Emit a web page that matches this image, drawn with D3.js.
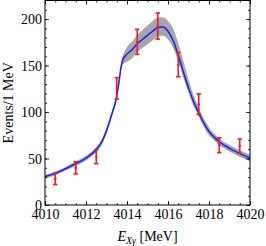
<!DOCTYPE html>
<html>
<head>
<meta charset="utf-8">
<script src="https://cdn.jsdelivr.net/npm/d3@7"></script>
<style>
  body { margin: 0; background: #fff; }
  text { font-family: "Liberation Serif", "Times New Roman", serif; }
</style>
</head>
<body>
<script>

// Data
var curveE    = [4010.0, 4010.5, 4011.0, 4011.5, 4012.0, 4012.25, 4012.5, 4012.75, 4013.0, 4013.25, 4013.5, 4013.6, 4013.7, 4013.78, 4013.9, 4014.0, 4014.25, 4014.5, 4014.75, 4015.0, 4015.25, 4015.5, 4015.75, 4016.0, 4016.25, 4016.5, 4016.75, 4017.0, 4017.25, 4017.5, 4017.75, 4018.0, 4018.25, 4018.5, 4019.0, 4019.5, 4020.0];
var curveMid  = [30.5, 34, 39, 44.5, 50.5, 54.5, 59.5, 67, 80, 97, 117, 131, 147, 155.5, 160, 162.5, 167, 173.5, 178, 182.5, 187, 191, 191.5, 187, 177, 161, 143, 126, 111, 99, 88, 79, 73, 68, 61, 55.5, 50.5];
var curveLow  = [28.5, 32, 37, 42, 48, 52, 56.5, 64, 77, 94, 114, 128, 143.5, 150.5, 153, 154, 158, 164.5, 169, 173, 177, 181, 182, 178, 169, 155, 137, 121, 106.5, 95, 84, 75, 69.5, 64.5, 57.5, 52, 47];
var curveHigh = [32.5, 36, 41, 47, 53, 57, 62.5, 70, 83, 100, 120, 134, 150.5, 159.5, 166, 170, 176, 183, 188, 193, 198, 201.5, 202, 198, 190, 174, 155, 135, 118, 104.5, 93, 83.5, 77, 71.5, 64.5, 59, 54];

var dataE   = [4010.5, 4011.5, 4012.5, 4013.5, 4014.5, 4015.5, 4016.5, 4017.5, 4018.5, 4019.5];
var dataVal = [28, 40, 52, 125.5, 175.5, 192.5, 151, 108.5, 64.3, 63.3];
var dataErr = [6, 6.5, 7.5, 11.5, 13.5, 14, 13, 11, 8, 7.7];

var xMajor = [4010, 4012, 4014, 4016, 4018, 4020];
var yMajor = [0, 50, 100, 150, 200];

var width = 266;
var height = 246;
var pLeft = 45, pRight = 250, pTop = 0.5, pBottom = 205;

var x = d3.scaleLinear().domain([4010, 4020]).range([pLeft, pRight]);
var y = d3.scaleLinear().domain([0, 220]).range([pBottom, pTop]);

var xMinor = d3.range(4010, 4020.01, 0.5);
var yMinor = d3.range(0, 220, 10);

var svg = d3.select("body").append("svg")
	.attr("width", width)
	.attr("height", height);

var plot = svg.append("g");

plot.append("clipPath").attr("id", "clip")
	.append("rect")
	.attr("x", pLeft).attr("y", pTop)
	.attr("width", pRight - pLeft).attr("height", pBottom - pTop);

// error band
var band = d3.area()
	.x(function(d) { return x(curveE[d]); })
	.y0(function(d) { return y(curveLow[d]); })
	.y1(function(d) { return y(curveHigh[d]); })
	.curve(d3.curveMonotoneX);

var idx = d3.range(curveE.length);

plot.append("path")
	.attr("clip-path", "url(#clip)")
	.attr("d", band(idx))
	.style("fill", "#a6a6a6")
	.style("stroke", "none");

// central curve
var line = d3.line()
	.x(function(d) { return x(curveE[d]); })
	.y(function(d) { return y(curveMid[d]); })
	.curve(d3.curveMonotoneX);

plot.append("path")
	.attr("clip-path", "url(#clip)")
	.attr("d", line(idx))
	.style("fill", "none")
	.style("stroke", "#1a1aff")
	.style("stroke-width", 1.5);

// data points with error bars
var pts = plot.selectAll("g.pt")
	.data(d3.range(dataE.length))
	.enter()
	.append("g")
	.attr("class", "pt")
	.style("stroke", "#ec1c24")
	.style("stroke-width", 1.6);

pts.append("line")
	.attr("x1", function(d) { return x(dataE[d]); })
	.attr("x2", function(d) { return x(dataE[d]); })
	.attr("y1", function(d) { return y(dataVal[d] - dataErr[d]); })
	.attr("y2", function(d) { return y(dataVal[d] + dataErr[d]); });

[-1, 1].forEach(function(s) {
	pts.append("line")
		.attr("x1", function(d) { return x(dataE[d]) - 2.2; })
		.attr("x2", function(d) { return x(dataE[d]) + 2.2; })
		.attr("y1", function(d) { return y(dataVal[d] + s * dataErr[d]); })
		.attr("y2", function(d) { return y(dataVal[d] + s * dataErr[d]); });
});

pts.append("line")
	.attr("x1", function(d) { return x(dataE[d]) - 1.3; })
	.attr("x2", function(d) { return x(dataE[d]) + 1.3; })
	.attr("y1", function(d) { return y(dataVal[d]); })
	.attr("y2", function(d) { return y(dataVal[d]); });

// axes (ticks point inward)
function styleAxis(g) {
	g.select(".domain").remove();
	g.selectAll("line").style("stroke", "#000").style("stroke-width", 0.8);
	g.selectAll("text")
		.style("font-family", "'Liberation Serif', serif")
		.style("font-size", "14px")
		.style("fill", "#000");
}

svg.append("g")
	.attr("transform", "translate(0," + pBottom + ")")
	.call(d3.axisBottom(x).tickValues(xMinor).tickSize(-2).tickFormat(""))
	.call(styleAxis);
svg.append("g")
	.attr("transform", "translate(0," + pBottom + ")")
	.call(d3.axisBottom(x).tickValues(xMajor).tickSizeInner(-4).tickSizeOuter(0).tickPadding(6).tickFormat(d3.format("d")))
	.call(styleAxis)
	.selectAll("text").attr("y", 4);

svg.append("g")
	.attr("transform", "translate(0," + pTop + ")")
	.call(d3.axisTop(x).tickValues(xMinor).tickSize(-2).tickFormat(""))
	.call(styleAxis);
svg.append("g")
	.attr("transform", "translate(0," + pTop + ")")
	.call(d3.axisTop(x).tickValues(xMajor).tickSize(-4).tickFormat(""))
	.call(styleAxis);

svg.append("g")
	.attr("transform", "translate(" + pLeft + ",0)")
	.call(d3.axisLeft(y).tickValues(yMinor).tickSize(-2).tickFormat(""))
	.call(styleAxis);
svg.append("g")
	.attr("transform", "translate(" + pLeft + ",0)")
	.call(d3.axisLeft(y).tickValues(yMajor).tickSizeInner(-4).tickSizeOuter(0).tickFormat(d3.format("d")))
	.call(styleAxis)
	.selectAll("text").attr("x", -3);

svg.append("g")
	.attr("transform", "translate(" + pRight + ",0)")
	.call(d3.axisRight(y).tickValues(yMinor).tickSize(-2).tickFormat(""))
	.call(styleAxis);
svg.append("g")
	.attr("transform", "translate(" + pRight + ",0)")
	.call(d3.axisRight(y).tickValues(yMajor).tickSize(-4).tickFormat(""))
	.call(styleAxis);

// frame
svg.append("rect")
	.attr("x", pLeft).attr("y", pTop)
	.attr("width", pRight - pLeft).attr("height", pBottom - pTop)
	.style("fill", "none")
	.style("stroke", "#000")
	.style("stroke-width", 1);

// axis titles
svg.append("text")
	.attr("transform", "translate(13," + ((pTop + pBottom) / 2) + ") rotate(-90)")
	.attr("text-anchor", "middle")
	.style("font-size", "14px")
	.text("Events/1 MeV");

var xt = svg.append("text")
	.attr("x", (pLeft + pRight) / 2)
	.attr("y", 241)
	.attr("text-anchor", "middle")
	.style("font-size", "14px");
xt.append("tspan").style("font-style", "italic").text("E");
xt.append("tspan").style("font-style", "italic").style("font-size", "10px").attr("dy", 3).text("Xγ");
xt.append("tspan").attr("dy", -3).text(" [MeV]");

</script>
</body>
</html>
